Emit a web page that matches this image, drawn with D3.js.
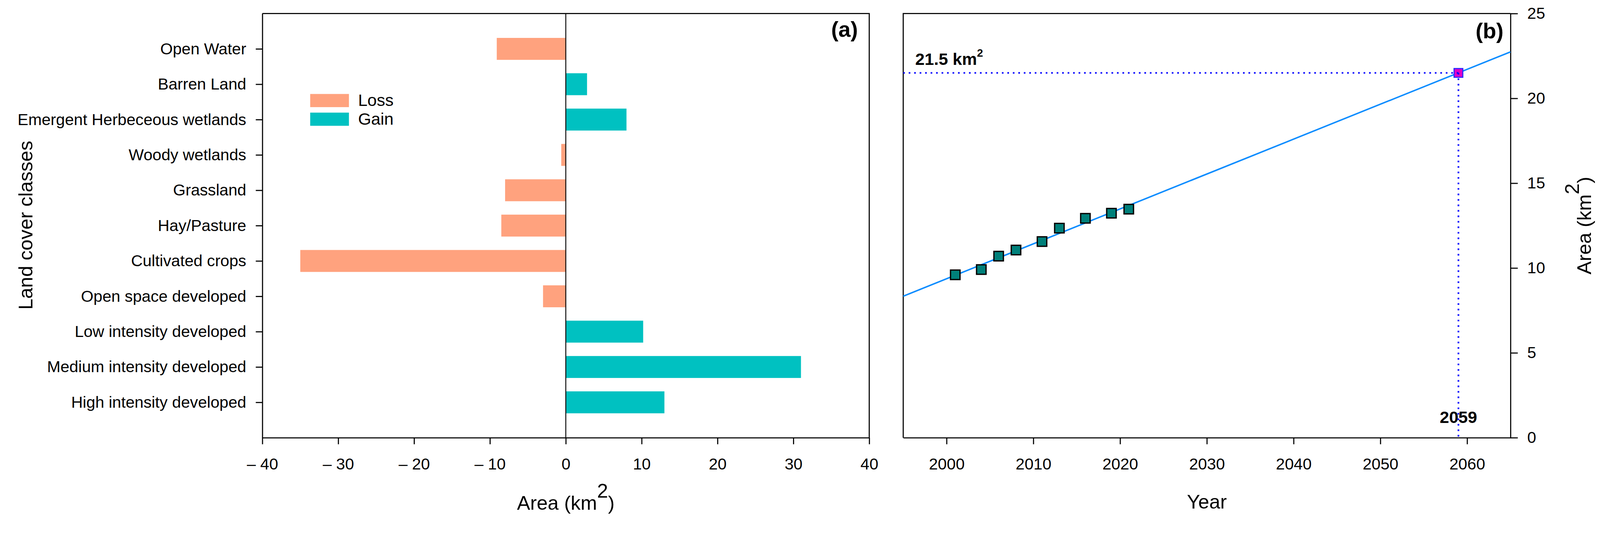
<!doctype html>
<html>
<head>
    <meta charset="utf-8">
    <title>Land cover change and projection</title>
    <script src="https://d3js.org/d3.v7.min.js"></script>
    <style type="text/css">
        html, body { margin: 0; width: 100%; height: 100%; overflow: hidden; background: #fff; }
        svg { display: block; width: 100vw; height: 100vh; font-family: Arial, "Liberation Sans", sans-serif; }
        .axis path, .axis line { stroke: #000; stroke-width: 3; }
        .axis text { fill: #000; font-size: 44px; }
    </style>
</head>
<body>
<svg id="chart" viewBox="0 0 4379 1430" preserveAspectRatio="xMidYMin meet"></svg>

<script type="text/javascript">
    // (a) change per land cover class, top to bottom
    var classes = ["Open Water", "Barren Land", "Emergent Herbeceous wetlands", "Woody wetlands",
        "Grassland", "Hay/Pasture", "Cultivated crops", "Open space developed",
        "Low intensity developed", "Medium intensity developed", "High intensity developed"];
    var change = [-9.1, 2.8, 8.0, -0.6, -8.0, -8.5, -35.0, -3.0, 10.2, 31.0, 13.0];
    var changeTicks = [-40, -30, -20, -10, 0, 10, 20, 30, 40];
    var legendKeys = ["Loss", "Gain"];

    // (b) observed area per year, fitted line, projected point
    var years = [2001, 2004, 2006, 2008, 2011, 2013, 2016, 2019, 2021];
    var area = [9.6, 9.91, 10.7, 11.06, 11.56, 12.35, 12.93, 13.23, 13.47];
    var fitYears = [1995, 2065];
    var fitArea = [8.34, 22.74];
    var projYears = [2059];
    var projArea = [21.5];
    var yearTicks = [2000, 2010, 2020, 2030, 2040, 2050, 2060];
    var areaTicks = [0, 5, 10, 15, 20, 25];

    var lossColor = "#ffa27e", gainColor = "#00c1c1";
    var svg = d3.select("#chart");

    // ---------- panel (a) ----------
    var xa = d3.scaleLinear().domain([-40, 40]).range([718, 2379]);
    var ya = d3.scalePoint().domain(classes).range([37, 1197]).padding(1);

    var ga = svg.append("g");

    ga.selectAll("rect.bar")
        .data(classes)
        .enter()
        .append("rect")
        .attr("class", "bar")
        .attr("x", function(d, i) { return xa(Math.min(0, change[i])); })
        .attr("y", function(d) { return ya(d) - 30; })
        .attr("width", function(d, i) { return Math.abs(xa(change[i]) - xa(0)); })
        .attr("height", 60)
        .attr("fill", function(d, i) { return change[i] < 0 ? lossColor : gainColor; });

    // zero line
    ga.append("line")
        .attr("x1", xa(0)).attr("x2", xa(0))
        .attr("y1", 37).attr("y2", 1197)
        .attr("stroke", "#000").attr("stroke-width", 2.5);

    // frame top + right
    ga.append("path")
        .attr("d", "M" + xa(-40) + "," + 37 + "H" + xa(40) + "V" + 1197)
        .attr("fill", "none").attr("stroke", "#000").attr("stroke-width", 3);

    ga.append("g")
        .attr("class", "axis")
        .attr("transform", "translate(" + xa(-40) + ",0)")
        .call(d3.axisLeft(ya).tickSize(18).tickSizeOuter(0).tickPadding(26))
        .selectAll("text").attr("font-size", 48);

    ga.append("g")
        .attr("class", "axis")
        .attr("transform", "translate(0,1197)")
        .call(d3.axisBottom(xa).tickValues(changeTicks).tickSize(18).tickSizeOuter(0).tickPadding(38)
            .tickFormat(function(d) { return d < 0 ? "\u2013 " + Math.abs(d) : d; }));

    // legend
    var leg = ga.selectAll("g.leg")
        .data(legendKeys)
        .enter()
        .append("g")
        .attr("class", "leg")
        .attr("transform", function(d, i) { return "translate(849," + (257 + i * 51) + ")"; });
    leg.append("rect")
        .attr("width", 106).attr("height", 36)
        .attr("fill", function(d, i) { return i == 0 ? lossColor : gainColor; });
    leg.append("text")
        .attr("x", 131).attr("y", 33)
        .attr("font-size", 46)
        .text(function(d) { return d; });

    ga.append("text")
        .attr("x", 2348).attr("y", 100)
        .attr("text-anchor", "end")
        .attr("font-size", 60).attr("font-weight", "bold")
        .text("(a)");

    var ta = ga.append("text")
        .attr("x", (xa(-40) + xa(40)) / 2).attr("y", 1394)
        .attr("text-anchor", "middle")
        .attr("font-size", 54);
    ta.append("tspan").text("Area (km");
    ta.append("tspan").attr("dy", -33).text("2");
    ta.append("tspan").attr("dy", 33).text(")");

    ga.append("text")
        .attr("transform", "translate(89,616) rotate(-90)")
        .attr("text-anchor", "middle")
        .attr("font-size", 54)
        .text("Land cover classes");

    // ---------- panel (b) ----------
    var xb = d3.scaleLinear().domain([1995, 2065]).range([2472, 4134]);
    var yb = d3.scaleLinear().domain([0, 25]).range([1197, 37]);

    var gb = svg.append("g");

    // frame left + top
    gb.append("path")
        .attr("d", "M" + xb(1995) + "," + yb(0) + "V" + yb(25) + "H" + xb(2065))
        .attr("fill", "none").attr("stroke", "#000").attr("stroke-width", 3);

    gb.append("g")
        .attr("class", "axis")
        .attr("transform", "translate(0," + yb(0) + ")")
        .call(d3.axisBottom(xb).tickValues(yearTicks).tickFormat(d3.format("d"))
            .tickSize(18).tickSizeOuter(0).tickPadding(38));

    gb.append("g")
        .attr("class", "axis")
        .attr("transform", "translate(" + xb(2065) + ",0)")
        .call(d3.axisRight(yb).tickValues(areaTicks).tickSize(20).tickSizeOuter(0).tickPadding(26));

    // fitted line
    var fit = d3.line()
        .x(function(d, i) { return xb(fitYears[i]); })
        .y(function(d, i) { return yb(fitArea[i]); });
    gb.append("path")
        .datum(fitYears)
        .attr("d", fit)
        .attr("fill", "none").attr("stroke", "#0d8cff").attr("stroke-width", 4);

    // observed squares
    gb.selectAll("rect.obs")
        .data(years)
        .enter()
        .append("rect")
        .attr("class", "obs")
        .attr("x", function(d) { return xb(d) - 13; })
        .attr("y", function(d, i) { return yb(area[i]) - 13; })
        .attr("width", 26).attr("height", 26)
        .attr("fill", "#00807a").attr("stroke", "#000").attr("stroke-width", 3.5);

    // projected point
    gb.selectAll("rect.proj")
        .data(projYears)
        .enter()
        .append("rect")
        .attr("class", "proj")
        .attr("x", function(d) { return xb(d) - 12; })
        .attr("y", function(d, i) { return yb(projArea[i]) - 12; })
        .attr("width", 24).attr("height", 24)
        .attr("fill", "#e000c8").attr("stroke", "#2a2aff").attr("stroke-width", 3);

    // dotted guides
    projYears.forEach(function(d, i) {
        gb.append("line")
            .attr("x1", xb(1995)).attr("x2", xb(d))
            .attr("y1", yb(projArea[i])).attr("y2", yb(projArea[i]))
            .attr("stroke", "#0000ff").attr("stroke-width", 4.5)
            .attr("stroke-dasharray", "4.5 10.5");
        gb.append("line")
            .attr("x1", xb(d)).attr("x2", xb(d))
            .attr("y1", yb(projArea[i])).attr("y2", yb(0))
            .attr("stroke", "#0000ff").attr("stroke-width", 4.5)
            .attr("stroke-dasharray", "4.5 10.5");

        var lab = gb.append("text")
            .attr("x", 2505).attr("y", 177)
            .attr("font-size", 46).attr("font-weight", "bold");
        lab.append("tspan").text(projArea[i] + " km");
        lab.append("tspan").attr("dy", -22).attr("font-size", 30).text("2");

        gb.append("text")
            .attr("x", xb(d)).attr("y", 1157)
            .attr("text-anchor", "middle")
            .attr("font-size", 46).attr("font-weight", "bold")
            .text(d);
    });

    gb.append("text")
        .attr("x", 4115).attr("y", 105)
        .attr("text-anchor", "end")
        .attr("font-size", 60).attr("font-weight", "bold")
        .text("(b)");

    gb.append("text")
        .attr("x", (xb(1995) + xb(2065)) / 2).attr("y", 1391)
        .attr("text-anchor", "middle")
        .attr("font-size", 54)
        .text("Year");

    var tb = gb.append("text")
        .attr("transform", "translate(4354," + yb(12.5) + ") rotate(-90)")
        .attr("text-anchor", "middle")
        .attr("font-size", 54);
    tb.append("tspan").text("Area (km");
    tb.append("tspan").attr("dy", -33).text("2");
    tb.append("tspan").attr("dy", 33).text(")");
</script>
</body>
</html>
